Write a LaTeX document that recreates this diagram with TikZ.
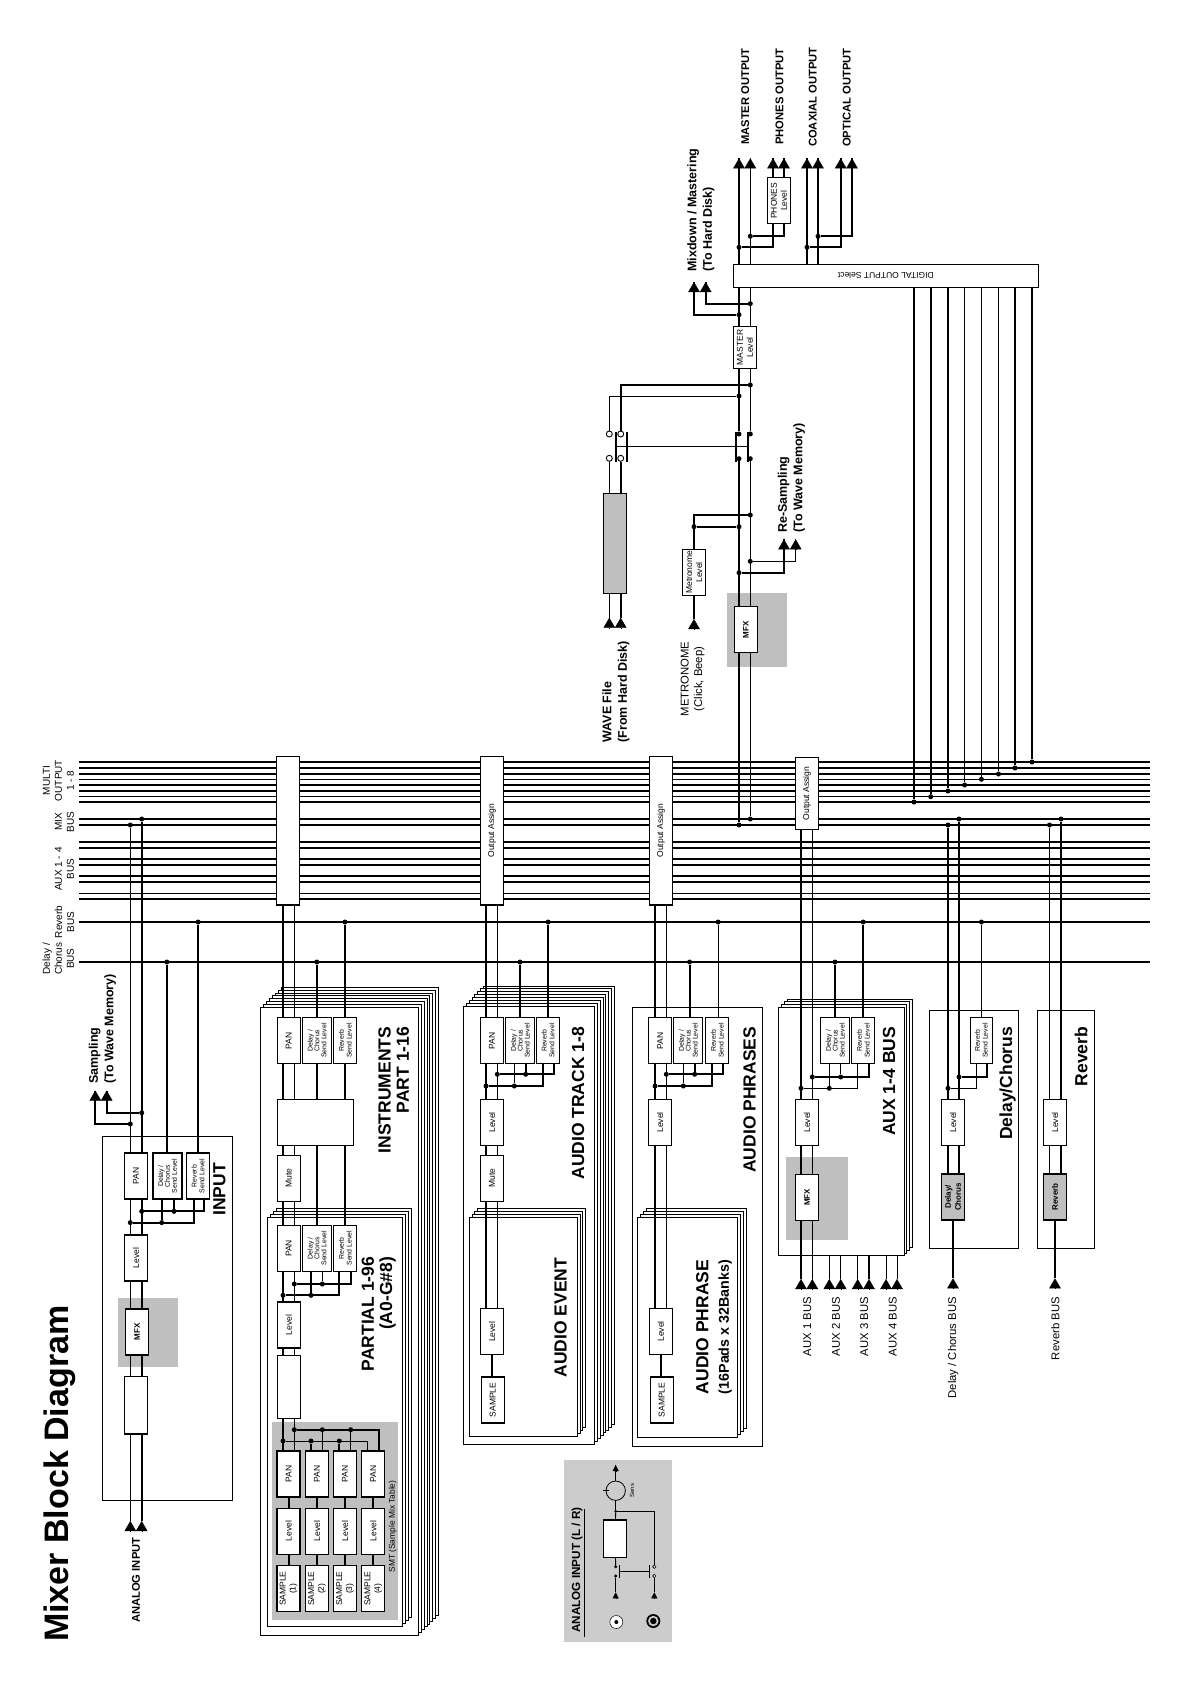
\documentclass[tikz,border=0pt]{standalone}
\usepackage{fontspec}
\setmainfont{Liberation Sans}
\usetikzlibrary{arrows.meta}
\definecolor{FxGray}{HTML}{BFBFBF}
\definecolor{PanelGray}{HTML}{CCCCCC}
\pgfdeclarelayer{backdrop}
\pgfdeclarelayer{wires}
\pgfsetlayers{backdrop,wires,main}

\begin{document}
\begin{tikzpicture}[
	x=1pt,
	y=-1pt,
	% Blocks
	boxbase/.style={
		rectangle,
		draw=black,
		fill=white,
		line width=1.3pt,
		inner sep=0pt,
		align=center,
		font=\fontsize{8.5}{10}\selectfont
	},
	box/.style={boxbase,rotate=90},
	pan/.style={box,minimum width=46pt,minimum height=23pt},
	dlsend/.style={pan,minimum height=29pt,font=\fontsize{6.9}{6.9}\selectfont},
	rvsend/.style={pan,font=\fontsize{6.9}{7.7}\selectfont},
	mfx/.style={pan,font=\fontsize{8}{9}\selectfont\bfseries},
	fxbox/.style={pan,fill=FxGray,line width=1.7pt,font=\fontsize{8}{10}\selectfont\bfseries},
	% Frames
	frame/.style={draw=black,fill=white,line width=.9pt},
	graybg/.style={fill=FxGray},
	% Wires
	wthk/.style={draw=black,line width=1.9pt},
	wthn/.style={draw=black,line width=.9pt},
	dot/.style={circle,fill=black,inner sep=0pt,minimum size=5pt},
	opn/.style={circle,draw=black,fill=white,line width=.9pt,inner sep=0pt,minimum size=6pt},
	opnS/.style={opn,minimum size=3.4pt,line width=.6pt},
	swbar/.style={rectangle,fill=black,inner sep=0pt,minimum width=1.8pt,minimum height=30pt},
	tip/.style={-{Triangle[length=10pt,width=11.5pt]},line width=.4pt},
	tipS/.style={-{Triangle[length=6pt,width=6pt]},line width=.4pt},
	% Texts
	bigt/.style={rotate=90,inner sep=0pt,font=\fontsize{17.5}{18.3}\selectfont\bfseries},
	bldt/.style={rotate=90,inner sep=0pt,font=\fontsize{12.5}{15.5}\selectfont\bfseries},
	outt/.style={rotate=90,inner sep=0pt,font=\fontsize{11.2}{13}\selectfont\bfseries},
	regt/.style={rotate=90,inner sep=0pt,align=center,font=\fontsize{11.3}{13.5}\selectfont},
	bust/.style={rotate=90,inner sep=0pt,align=center,font=\fontsize{10}{12}\selectfont}
	]
	\useasboundingbox (0,0) rectangle (1192,1684);
	
	% ================= FRAMES =================
	\begin{pgfonlayer}{backdrop}
		\draw[frame] (102.3,1136) rectangle (232,1500);
		\fill[graybg] (118,1297.6) rectangle (177.7,1367.4);
		
		\foreach \i in {7,...,0}
			\draw[frame,shift={(2.9*\i,-2.86*\i)}] (260.7,1007.3) rectangle (418.3,1635.5);
		\foreach \i in {3,...,0}
			\draw[frame,shift={(3*\i,-2.9*\i)}] (267.3,1217.3) rectangle (402.3,1626.3);
		\fill[graybg] (272,1422) rectangle (398,1620);
		
		\foreach \i in {7,...,0}
			\draw[frame,shift={(2.9*\i,-2.9*\i)}] (463.3,1006.3) rectangle (594.3,1444.5);
		\foreach \i in {3,...,0}
			\draw[frame,shift={(2.8*\i,-2.9*\i)}] (469.3,1217.3) rectangle (577.3,1436);
		
		\draw[frame] (632.7,1007.3) rectangle (762.3,1446.6);
		\foreach \i in {3,...,0}
			\draw[frame,shift={(3*\i,-2.9*\i)}] (637.3,1217.3) rectangle (737.3,1437);
		
		\foreach \i in {3,...,0}
			\draw[frame,shift={(2.9*\i,-2.7*\i)}] (778.7,1007.3) rectangle (904,1255.7);
		\fill[graybg] (786,1157) rectangle (848,1240);
		
		\draw[frame] (929.3,1010.3) rectangle (1018.3,1248.3);
		\draw[frame] (1037.3,1010.3) rectangle (1094.3,1248.3);
		
		\fill[graybg] (727,593.3) rectangle (786.7,666.7);
		\fill[fill=PanelGray] (564,1460) rectangle (672,1642.3);
	\end{pgfonlayer}
	
	% ================= BLOCKS =================
	% input
	\node[pan] (iPan) at (136,1176) {PAN};
	\node[dlsend] (iDl) at (167.5,1176) {Delay /\\Chorus\\Send Level};
	\node[rvsend] (iRv) at (198,1176) {Reverb\\Send Level};
	\node[pan] (iLv) at (136,1258) {Level};
	\node[mfx] (iFx) at (137,1332) {MFX};
	\node[pan,minimum width=57.3pt] (iAd) at (136,1405.3) {};
	
	% instruments and partial
	\node[box,minimum width=148.7pt,minimum height=23.2pt] (outI) at (288,830.7) {};
	\node[pan] (nPan) at (288.8,1040.7) {PAN};
	\node[dlsend] (nDl) at (317,1040.7) {Delay /\\Chorus\\Send Level};
	\node[rvsend] (nRv) at (345.2,1040.7) {Reverb\\Send Level};
	\node[pan,minimum height=76pt] (nFx) at (315.3,1122.3) {};
	\node[pan] (nMt) at (288.8,1178.3) {Mute};
	\node[pan] (pPan) at (288.8,1248.3) {PAN};
	\node[dlsend] (pDl) at (317,1248.3) {Delay /\\Chorus\\Send Level};
	\node[rvsend] (pRv) at (345.2,1248.3) {Reverb\\Send Level};
	\node[pan] (pLv) at (288.8,1325) {Level};
	\node[pan,minimum width=62.6pt] (pBl) at (288.8,1387) {};
	\foreach \i/\x in {1/288.6,2/317,3/345,4/373.3}{
		\node[pan] (panS\i) at (\x,1473.9) {PAN};
		\node[pan] (lvS\i) at (\x,1531.2) {Level};
		\node[pan] (smp\i) at (\x,1588.7) {SAMPLE\\(\i)};
	}
	
	% audio track and event
	\node[box,minimum width=148.7pt,minimum height=23.2pt] (outT) at (492,830.7) {Output Assign};
	\node[pan] (tPan) at (492,1040.7) {PAN};
	\node[dlsend] (tDl) at (520.2,1040.7) {Delay /\\Chorus\\Send Level};
	\node[rvsend] (tRv) at (548,1040.7) {Reverb\\Send Level};
	\node[pan] (tLv) at (492,1122.3) {Level};
	\node[pan] (tMt) at (492,1178.3) {Mute};
	\node[pan] (eLv) at (492,1331.7) {Level};
	\node[pan] (eSm) at (492.8,1400) {SAMPLE};
	
	% audio phrases
	\node[box,minimum width=148.7pt,minimum height=23.2pt] (outF) at (660.9,830.7) {Output Assign};
	\node[pan] (fPan) at (660.2,1040.7) {PAN};
	\node[dlsend] (fDl) at (688.2,1040.7) {Delay /\\Chorus\\Send Level};
	\node[rvsend] (fRv) at (717.2,1040.7) {Reverb\\Send Level};
	\node[pan] (fLv) at (660.2,1122.3) {Level};
	\node[pan] (hLv) at (660.8,1331.3) {Level};
	\node[pan] (hSm) at (661.8,1400) {SAMPLE};
	
	% aux
	\node[box,minimum width=71.6pt,minimum height=22.8pt] (outA) at (806.8,793.5) {Output Assign};
	\node[dlsend] (aDl) at (835.2,1040.7) {Delay /\\Chorus\\Send Level};
	\node[rvsend] (aRv) at (863.2,1040.7) {Reverb\\Send Level};
	\node[pan] (aLv) at (807,1122.3) {Level};
	\node[mfx] (aFx) at (807,1197.3) {MFX};
	
	% delay and reverb
	\node[rvsend,minimum height=22pt] (dRv) at (981.3,1040.7) {Reverb\\Send Level};
	\node[pan] (dLv) at (953,1122.3) {Level};
	\node[fxbox] (dFx) at (953,1196.9) {Delay/\\Chorus};
	\node[pan] (rLv) at (1055,1122.3) {Level};
	\node[fxbox] (rFx) at (1055,1196.9) {Reverb};
	
	% master side
	\node[boxbase,rotate=180,minimum width=305pt,minimum height=23pt] (digi) at (885.8,275.8) {DIGITAL OUTPUT Select};
	\node[pan,minimum width=41.6pt,minimum height=22.6pt] (mLv) at (745,347.5) {MASTER\\Level};
	\node[pan,minimum height=22.6pt] (hpLv) at (779,200.8) {PHONES\\Level};
	\node[mfx] (mFx) at (745.8,629.7) {MFX};
	\node[pan] (mtLv) at (694.2,572.3) {Metronome\\Level};
	\node[pan,fill=FxGray,minimum width=100pt] (wave) at (615.2,543.3) {};
	\node[swbar] (swA) at (616,446.5) {};
	\node[swbar] (swB) at (627.3,446.5) {};
	\node[swbar] (swC) at (735.7,446.5) {};
	\node[swbar] (swD) at (747.7,446.5) {};
	\node[opn] (oA) at (609.3,434) {};
	\node[opn] (oB) at (620.7,434) {};
	\node[opn] (oC) at (609.3,458.3) {};
	\node[opn] (oD) at (620.7,458.3) {};
	
	% analog input panel
	\node[pan,minimum width=37.3pt,minimum height=23.3pt] (aiAmp) at (615,1538.6) {};
	\node[circle,draw=black,line width=.8pt,inner sep=0pt,minimum size=19.4pt] (aiSens) at (615.7,1490.7) {};
	\node[opnS] (oAa) at (654.3,1566.7) {};
	\node[opnS] (oAb) at (654.3,1576) {};
	\node[swbar,minimum height=13pt,minimum width=1.2pt] (bAa) at (619.3,1571.5) {};
	\node[swbar,minimum height=13pt,minimum width=1.2pt] (bAb) at (649.3,1571.5) {};
	\node[circle,draw=black,fill=white,line width=.5pt,inner sep=0pt,minimum size=13pt] (jkA) at (616.3,1622) {};
	\node[circle,fill=black,inner sep=0pt,minimum size=4pt] (jkAi) at (616.3,1622) {};
	\node[circle,fill=black,inner sep=0pt,minimum size=14pt] (jkB) at (653.3,1621) {};
	\node[circle,fill=PanelGray,inner sep=0pt,minimum size=10.5pt] (jkBm) at (653.3,1621) {};
	\node[circle,fill=black,inner sep=0pt,minimum size=6.5pt] (jkBi) at (653.3,1621) {};
	
	% ================= JUNCTIONS =================
	\foreach \n/\x/\y in {
		dIxL/130.3/825, dIxR/141.7/819, dIdl/166.8/962, dIrv/198.2/922,
		dSmL/130.3/1124, dSmR/141.7/1112.8,
		dIa/141.7/1211.3, dIb/130.3/1222.6, dIc/174/1211.3, dId/161.7/1222.6,
		dNdl/316.8/962, dNrv/345/922,
		dPa/294.3/1284, dPb/283/1295.3, dPc/322.3/1284, dPd/311/1295.3,
		dSa/294.3/1429.7, dSb/283/1441, dSc/322.3/1429.7, dSd/350.7/1429.7, dSe/311/1441, dSf/339.3/1441,
		dTdl/520/962, dTrv/548.2/922,
		dTa/497.3/1074.3, dTb/486/1086, dTc/525.7/1074.3, dTd/514.3/1086,
		dFdl/689.6/962, dFrv/718.2/922,
		dFa/666.3/1074.3, dFb/655/1086, dFc/694.7/1074.3, dFd/683.3/1086,
		dAdl/835/962, dArv/863.2/922,
		dAa/812.3/1077, dAb/801/1088.3, dAc/840.7/1077, dAd/829.3/1088.3,
		dDxL/948/825, dDxR/959/819, dDrv/981.4/922, dDa/959/1077, dDb/948/1088.3,
		dRxL/1049.5/825, dRxR/1061/819,
		dMxL/739/825, dMxR/750.3/819,
		dRa/750.3/561.3, dRb/739/572.7,
		dMa/694/526.7, dMb/739/526.7, dMc/750.3/515,
		dSw3/739/458.7, dSw4/750.3/458.7, dSw1/739/434, dSw2/750.3/434,
		dWa/739/396, dWb/750.3/385,
		dXa/750.3/303.7, dXb/739/314.7,
		dHa/750.3/236.3, dHb/739/247.3, dCa/818/236.3, dCb/807/247.3%
	}{
		\node[dot] (\n) at (\x,\y) {};
	}
	\node[dot,minimum size=3pt] (dAi) at (615.7,1511.3) {};
	\node[dot,minimum size=3.4pt] (dAj) at (615.7,1566.7) {};
	\node[dot,minimum size=3.4pt] (dAk) at (615.7,1576) {};
	
	% arrow tips and hidden wire ends
	\foreach \n/\x/\y in {
		tAinL/130.3/1521, tAinR/141.7/1521, tSmL/95.3/1090.5, tSmR/106.7/1090.5,
		tA1/801/1279, tA2/812.3/1279, tA3/829.3/1279, tA4/840.7/1279,
		tA5/857.7/1279, tA6/869/1279, tA7/886/1279, tA8/897/1279,
		tDc/953/1278.3, tRb/1055/1278.3,
		tMe/694/619, tW1/609.3/617.7, tW2/620.7/617.7,
		tR1/784/539.3, tR2/795.7/539.3, tX1/694/282, tX2/705.7/282,
		tM1/739/158.3, tM2/750.3/158.3, tP1/773/158.3, tP2/784/158.3,
		tC1/807/158.3, tC2/818/158.3, tO1/840.7/158.3, tO2/852/158.3%
	}{
		\coordinate (\n) at (\x,\y);
	}
	\foreach \n/\x/\y in {
		cIa/204.3/1190, cIb/194/1190,
		cPa/351/1260, cPb/339.3/1260,
		cSa/379.3/1473, cSb/367.7/1473,
		cTa/554/1050, cTb/542.7/1050,
		cFa/723/1050, cFb/711.7/1050,
		cAa/869/1050, cAb/857.7/1050,
		cDa/987.3/1050, cDb/976/1050%
	}{
		\coordinate (\n) at (\x,\y);
	}
	\coordinate (cAfr) at (900,1255.7);
	\coordinate (tAa) at (615.7,1465);
	\coordinate (tAb) at (615.7,1592.3);
	\coordinate (tAc) at (654.3,1592.3);
	
	% ================= WIRES =================
	\begin{pgfonlayer}{wires}
		% buses
		\foreach \n/\y/\w in {
			m1/762/wthk, m2/768/wthk, m3/774/wthk, m4/779.3/wthn, m5/785/wthk, m6/791/wthk, m7/796.7/wthn, m8/802/wthk,
			x1/819/wthk, x2/825/wthk,
			a1/841.7/wthk, a2/847.7/wthk, a3/859/wthk, a4/865/wthk, a5/876/wthk, a6/882/wthk, a7/893.3/wthn, a8/899/wthk,
			rb/922/wthk, dc/962/wthk%
		}{
			\coordinate (bw\n) at (79,\y);
			\coordinate (be\n) at (1150,\y);
			\draw[\w] (bw\n) -- (be\n);
		}
		
		% input
		\draw[wthn] (dIxL) -- (tAinL);
		\draw[wthk] (dIxR) -- (tAinR);
		\draw[wthk] (dSmL) -| (tSmL);
		\draw[wthk] (dSmR) -| (tSmR);
		\draw[wthk] (dIa) -| (cIa);
		\draw[wthk] (dIb) -| (cIb);
		\draw[wthk] (dIdl) -- (dIdl |- iDl.center);
		\draw[wthk] (dIrv) -- (dIrv |- iRv.center);
		
		% instruments and partial
		\draw[wthk] (dSb |- panS1.center) -- (dSb |- outI.center);
		\draw[wthn] (dSa |- panS1.center) -- (dSa |- outI.center);
		\draw[wthk] (dNdl) -- (dNdl |- pDl.center);
		\draw[wthk] (dNrv) -- (dNrv |- pRv.center);
		\draw[wthk] (dPa) -| (cPa);
		\draw[wthk] (dPb) -| (cPb);
		\draw[wthk] (dSa) -| (cSa);
		\draw[wthn] (dSb) -| (cSb);
		\foreach \i in {1,...,4}{
			\draw[wthk] (panS\i.center) -- (smp\i.center);
		}
		
		% audio track
		\draw[wthk] (dTb |- eLv.center) -- (dTb |- outT.center);
		\draw[wthn] (dTa |- eLv.center) -- (dTa |- outT.center);
		\draw[wthk] (dTdl) -- (dTdl |- tDl.center);
		\draw[wthk] (dTrv) -- (dTrv |- tRv.center);
		\draw[wthk] (dTa) -| (cTa);
		\draw[wthk] (dTb) -| (cTb);
		\draw[wthk] (eLv.center) -- (eLv |- eSm.center);
		
		% audio phrases
		\draw[wthk] (dFb |- hLv.center) -- (dFb |- outF.center);
		\draw[wthn] (dFa |- hLv.center) -- (dFa |- outF.center);
		\draw[wthk] (dFdl) -- (dFdl |- fDl.center);
		\draw[wthn] (dFrv) -- (dFrv |- fRv.center);
		\draw[wthk] (dFa) -| (cFa);
		\draw[wthk] (dFb) -| (cFb);
		\draw[wthk] (hLv.center) -- (hLv |- hSm.center);
		
		% aux
		\draw[wthk] (tA1) -- (tA1 |- outA.center);
		\draw[wthn] (tA2) -- (tA2 |- outA.center);
		\draw[wthk] (dAdl) -- (dAdl |- aDl.center);
		\draw[wthk] (dArv) -- (dArv |- aRv.center);
		\draw[wthk] (dAa) -| (cAa);
		\draw[wthn] (dAb) -| (cAb);
		\foreach \t/\s in {tA3/wthn,tA4/wthn,tA5/wthn,tA6/wthk,tA7/wthn,tA8/wthn}{
			\draw[\s] (\t) -- (\t |- cAfr);
		}
		
		% delay and reverb
		\draw[wthk] (dDxL) -- (dDxL |- dFx.center);
		\draw[wthk] (dDxR) -- (dDxR |- dFx.center);
		\draw[wthn] (dDrv) -- (dDrv |- dRv.center);
		\draw[wthk] (dDa) -| (cDa);
		\draw[wthn] (dDb) -| (cDb);
		\draw[wthk] (dFx.center) -- (tDc);
		\draw[wthn] (dRxL) -- (dRxL |- rFx.center);
		\draw[wthk] (dRxR) -- (dRxR |- rFx.center);
		\draw[wthk] (rFx.center) -- (tRb);
		
		% master side
		\draw[wthk] (dMxL) -- (dSw3);
		\draw[wthn] (dMxR) -- (dSw4);
		\draw[wthk] (dSw1) -- (tM1);
		\draw[wthn] (dSw2) -- (tM2);
		\draw[wthk] (dRb) -| (tR1);
		\draw[wthn] (dRa) -| (tR2);
		\draw[wthk] (tMe) |- (dMc);
		\draw[wthk] (dMa) -- (dMb);
		\draw[wthn] (tW1) -- (oC);
		\draw[wthk] (tW2) -- (oD);
		\draw[wthn] (oA) |- (dWa);
		\draw[wthk] (oB) |- (dWb);
		\draw[wthn] (swA) -- (swD);
		\draw[wthk] (dXb) -| (tX1);
		\draw[wthk] (dXa) -| (tX2);
		\draw[wthk] (dHb) -| (tP1);
		\draw[wthk] (dHa) -| (tP2);
		\draw[wthk] (dCb) -| (tO1);
		\draw[wthk] (dCa) -| (tO2);
		\draw[wthk] (tC1) -- (tC1 |- digi.center);
		\draw[wthk] (tC2) -- (tC2 |- digi.center);
		
		% stubs up into the send blocks
		\foreach \d/\b/\s in {
			dIc/iDl/wthk, dId/iDl/wthk,
			dPc/pDl/wthn, dPd/pDl/wthk,
			dSc/panS2/wthn, dSe/panS2/wthk, dSd/panS3/wthn, dSf/panS3/wthk,
			dTc/tDl/wthk, dTd/tDl/wthn,
			dFc/fDl/wthk, dFd/fDl/wthn,
			dAc/aDl/wthn, dAd/aDl/wthn%
		}{
			\draw[\s] (\d) -- (\d |- \b.center);
		}
		
		% multi output to digital select
		\foreach \i/\x/\y/\s in {
			1/914/802/wthk, 2/930.7/796.7/wthk, 3/947.9/791/wthk, 4/964.6/785/wthn,
			5/981.4/779.3/wthn, 6/998.5/774/wthn, 7/1015/768/wthk, 8/1032/762/wthk%
		}{
			\node[dot] (dO\i) at (\x,\y) {};
			\draw[\s] (dO\i) -- (dO\i |- digi.center);
		}
		
		% analog panel
		\draw[wthn] (aiSens) -- (tAa);
		\draw[wthn] (aiSens) -- (dAi);
		\draw[wthn] (dAi) -- (aiAmp.center);
		\draw[wthn] (aiAmp.center) -- (dAj);
		\draw[wthn] (dAk) -- (tAb);
		\draw[wthn] (dAi) -| (oAa);
		\draw[wthn] (oAb) -- (tAc);
		\draw[wthn] (bAa) -- (bAb);
		\draw[wthn] ([xshift=-3pt]aiSens.west) -- ([xshift=3pt]aiSens.west);
		\coordinate (uA) at (584.3,1509);
		\coordinate (uB) at (584.3,1637);
		\draw[wthn] (uA) -- (uB);
		
		% tips
		\foreach \t in {tAinL,tAinR,tSmL,tSmR,tA1,tA2,tA3,tA4,tA5,tA6,tA7,tA8,tDc,tRb,tMe,tW1,tW2,tR1,tR2,tX1,tX2,tM1,tM2,tP1,tP2,tC1,tC2,tO1,tO2}{
			\draw[tip] ([yshift=-10pt]\t) -- (\t);
		}
		\foreach \t in {tAa,tAb,tAc}{
			\draw[tipS] ([yshift=-6pt]\t) -- (\t);
		}
	\end{pgfonlayer}
	
	% ================= TEXTS =================
	\node[rotate=90,inner sep=0pt,anchor=base west,font=\fontsize{34}{34}\selectfont\bfseries] (ttl) at (68,1642) {Mixer Block Diagram};
	
	\node[bust] (lbMu) at (58.4,780.5) {MULTI\\OUTPUT\\1 - 8};
	\node[bust] (lbMx) at (64.5,822) {MIX\\BUS};
	\node[bust] (lbAu) at (64.5,869) {AUX 1 - 4\\BUS};
	\node[bust] (lbRv) at (64.5,922) {Reverb\\BUS};
	\node[bust] (lbDl) at (58.4,958.7) {Delay /\\Chorus\\BUS};
	
	\node[bigt,anchor=east] (tiIn) at (219.5,1163) {INPUT};
	\node[bigt,anchor=east,align=right] (tiNs) at (393.7,1026.7) {INSTRUMENTS\\PART 1-16};
	\node[bigt,anchor=east,align=right] (tiPa) at (378.7,1256.7) {PARTIAL 1-96\\(A0-G\#8)};
	\node[bigt,anchor=east] (tiTr) at (578,1026.7) {AUDIO TRACK 1-8};
	\node[bigt,anchor=east] (tiEv) at (560.5,1257.7) {AUDIO EVENT};
	\node[bigt,anchor=east] (tiPh) at (749.5,1026.7) {AUDIO PHRASES};
	\node[bigt,align=center] (tiPs) at (714,1327) {AUDIO PHRASE\\[2pt]{\fontsize{14.3}{14.3}\selectfont (16Pads x 32Banks)}};
	\node[bigt,anchor=east] (tiAx) at (889,1026.7) {AUX 1-4 BUS};
	\node[bigt,anchor=east] (tiDc) at (1007.5,1026.7) {Delay/Chorus};
	\node[bigt,anchor=east] (tiRb) at (1081,1026.7) {Reverb};
	
	\node[rotate=90,inner sep=0pt,font=\fontsize{8.4}{10}\selectfont] (lbSm) at (392.7,1526.5) {SMT (Sample Mix Table)};
	
	\node[bldt,anchor=west,align=left] (lbSa) at (102.5,1084) {Sampling\\(To Wave Memory)};
	\node[bldt,anchor=west,align=left] (lbMd) at (701,271.7) {Mixdown / Mastering\\(To Hard Disk)};
	\node[bldt,anchor=west,align=left] (lbRs) at (791.5,533) {Re-Sampling\\(To Wave Memory)};
	\node[bldt,anchor=west,align=left] (lbWv) at (616,742.7) {WAVE File\\(From Hard Disk)};
	
	\node[outt,anchor=west] (lbO1) at (745.3,145) {MASTER OUTPUT};
	\node[outt,anchor=west] (lbO2) at (779.5,145) {PHONES OUTPUT};
	\node[outt,anchor=west] (lbO3) at (812.7,147) {COAXIAL OUTPUT};
	\node[outt,anchor=west] (lbO4) at (846.7,147) {OPTICAL OUTPUT};
	\node[outt,anchor=west] (lbAi) at (136,1623) {ANALOG INPUT};
	\node[outt,anchor=west,font=\fontsize{11.7}{13}\selectfont\bfseries] (lbAl) at (577,1633) {ANALOG INPUT (L / R)};
	\node[rotate=90,inner sep=0pt,font=\fontsize{6}{6}\selectfont] (lbSe) at (632,1490.7) {Sens};
	
	\node[regt] (lbMe) at (692.5,679) {METRONOME\\(Click, Beep)};
	\node[regt,anchor=east] (lbA1) at (807.3,1297) {AUX 1 BUS};
	\node[regt,anchor=east] (lbA2) at (836,1297) {AUX 2 BUS};
	\node[regt,anchor=east] (lbA3) at (864.3,1297) {AUX 3 BUS};
	\node[regt,anchor=east] (lbA4) at (892.7,1297) {AUX 4 BUS};
	\node[regt,anchor=east] (lbDb) at (953.3,1297) {Delay / Chorus BUS};
	\node[regt,anchor=east] (lbRb) at (1055.3,1297) {Reverb BUS};
	
\end{tikzpicture}
\end{document}
